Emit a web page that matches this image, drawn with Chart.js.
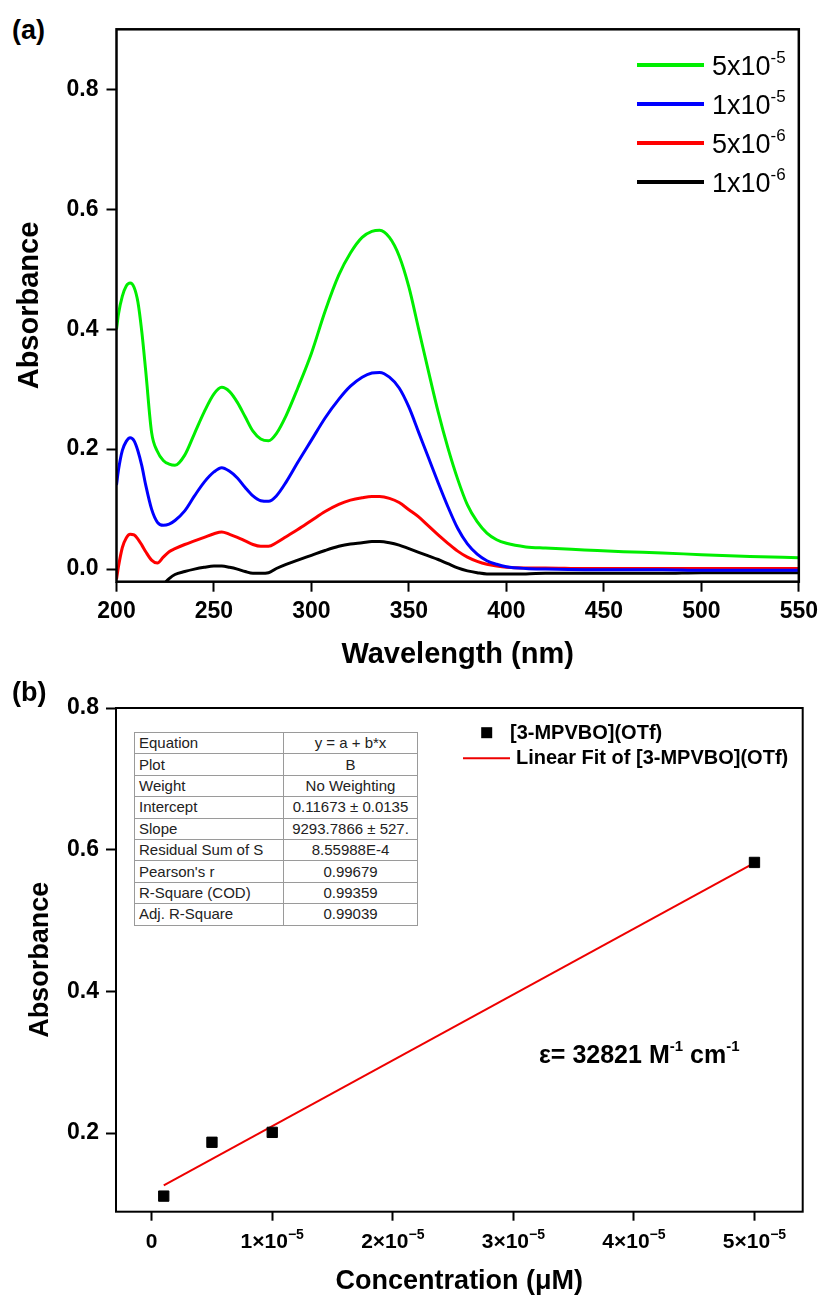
<!DOCTYPE html>
<html>
<head>
<meta charset="utf-8">
<script src="https://cdn.jsdelivr.net/npm/chart.js@4.4.1/dist/chart.umd.min.js"></script>
<style>
  body { margin: 0; background: #fff; width: 824px; height: 1296px; position: relative; overflow: hidden;
         font-family: 'Liberation Sans', Arial, sans-serif; color: #000; }
  canvas { position: absolute; left: 0; }
  #spectra { top: 0; }
  #calib { top: 680px; }
  .panel { position: absolute; left: 12px; font-weight: bold; font-size: 27px; line-height: 30px; }
  #fitTable { position: absolute; left: 134px; top: 732px; width: 284px; border-collapse: collapse;
              table-layout: fixed; font-size: 15px; color: #222; background: #fff; }
  #fitTable td { border: 1px solid #9a9a9a; padding: 0 0 0 4px; height: 20.4px; line-height: 20px; white-space: nowrap; overflow: hidden; }
  #fitTable td.v { text-align: center; padding: 0; }
  #epsilon { position: absolute; left: 539px; top: 1039px; font-weight: bold; font-size: 25px; line-height: 30px; }
  #epsilon sup { font-size: 15px; position: relative; top: -3px; vertical-align: super; line-height: 0; }
</style>
</head>
<body>
<div class="panel" style="top:15px">(a)</div>
<canvas id="spectra" width="824" height="680"></canvas>
<div class="panel" style="top:677px">(b)</div>
<canvas id="calib" width="824" height="616"></canvas>
<table id="fitTable"></table>
<div id="epsilon">ε= 32821 M<sup>-1</sup> cm<sup>-1</sup></div>

<script>
// panel (a): absorption spectra at four concentrations
const wavelengths = [200, 201, 203, 205, 207, 209, 211, 213, 215, 218, 221, 224, 227, 230, 235, 240, 245, 250, 254, 258,
  262, 266, 270, 274, 278, 282, 287, 293, 300, 307, 314, 320, 326, 331, 335, 340, 345, 350, 355, 360,
  365, 370, 375, 380, 385, 390, 395, 400, 410, 420, 440, 460, 480, 500, 525, 550];

const abs5e5 = [0.400, 0.425, 0.455, 0.472, 0.477, 0.470, 0.445, 0.395, 0.330, 0.228,
  0.196, 0.181, 0.175, 0.173, 0.190, 0.226, 0.262, 0.292, 0.303, 0.296,
  0.278, 0.254, 0.230, 0.217, 0.214, 0.226, 0.256, 0.302, 0.360, 0.430,
  0.490, 0.527, 0.553, 0.563, 0.565, 0.553, 0.522, 0.470, 0.400, 0.330,
  0.262, 0.202, 0.150, 0.107, 0.079, 0.060, 0.049, 0.043, 0.037, 0.035,
  0.032, 0.029, 0.027, 0.024, 0.021, 0.019];

const abs1e5 = [0.140, 0.165, 0.198, 0.213, 0.219, 0.214, 0.197, 0.172, 0.140, 0.100,
  0.078, 0.073, 0.075, 0.081, 0.097, 0.122, 0.145, 0.162, 0.169, 0.163,
  0.152, 0.136, 0.122, 0.114, 0.113, 0.122, 0.145, 0.178, 0.215, 0.252,
  0.283, 0.305, 0.320, 0.327, 0.328, 0.320, 0.302, 0.270, 0.228, 0.186,
  0.144, 0.104, 0.068, 0.042, 0.025, 0.014, 0.008, 0.004, 0.001, 0.000,
  -0.001, -0.001, -0.001, -0.002, -0.002, -0.002];

const abs5e6 = [-0.017, 0.004, 0.036, 0.052, 0.058, 0.057, 0.050, 0.040, 0.029, 0.015,
  0.010, 0.020, 0.029, 0.034, 0.041, 0.047, 0.053, 0.059, 0.062, 0.058,
  0.053, 0.047, 0.041, 0.038, 0.038, 0.044, 0.054, 0.066, 0.081, 0.096,
  0.108, 0.115, 0.119, 0.121, 0.121, 0.118, 0.111, 0.099, 0.087, 0.072,
  0.057, 0.043, 0.030, 0.020, 0.013, 0.008, 0.005, 0.003, 0.002, 0.002,
  0.001, 0.001, 0.001, 0.001, 0.001, 0.001];

const abs1e6 = [null, null, null, null, null, null, null, null, null, null,
  null, -0.026, -0.016, -0.009, -0.004, 0.000, 0.003, 0.005, 0.005, 0.003,
  0.000, -0.004, -0.007, -0.007, -0.006, 0.001, 0.008, 0.015, 0.023, 0.031,
  0.038, 0.042, 0.044, 0.046, 0.046, 0.044, 0.040, 0.034, 0.028, 0.022,
  0.016, 0.009, 0.002, -0.003, -0.006, -0.008, -0.008, -0.008, -0.008, -0.007,
  -0.007, -0.007, -0.007, -0.006, -0.006, -0.006];

const concLabels = ['5x10^-5', '1x10^-5', '5x10^-6', '1x10^-6'];
const spectraColors = ['#00ee00', '#0000ff', '#ff0000', '#000000'];

// panel (b): calibration points and linear fit
const concentrations = [1e-6, 5e-6, 1e-5, 5e-5];
const absorbances = [0.111, 0.187, 0.201, 0.582];
const fitIntercept = 0.11673;
const fitSlope = 9293.7866;
const concTickPower = -5;
const seriesName = '[3-MPVBO](OTf)';

const fitRowNames = ['Equation', 'Plot', 'Weight', 'Intercept', 'Slope', 'Residual Sum of S',
  "Pearson's r", 'R-Square (COD)', 'Adj. R-Square'];
const fitRowValues = ['y = a + b*x', 'B', 'No Weighting', '0.11673 \u00b1 0.0135', '9293.7866 \u00b1 527.',
  '8.55988E-4', '0.99679', '0.99359', '0.99039'];

Chart.defaults.font.family = "'Liberation Sans', Arial, sans-serif";
Chart.defaults.color = '#000';

const FONT = "'Liberation Sans', Arial, sans-serif";

// writes base text followed by a raised exponent
function drawPowerText(ctx, x, y, base, power, mainFont, supFont, rise, align) {
  ctx.font = mainFont;
  const w1 = ctx.measureText(base).width;
  ctx.font = supFont;
  const w2 = power ? ctx.measureText(power).width : 0;
  const x0 = align === 'center' ? x - (w1 + w2) / 2 : x;
  ctx.textAlign = 'left';
  ctx.textBaseline = 'alphabetic';
  ctx.font = mainFont;
  ctx.fillText(base, x0, y);
  if (power) {
    ctx.font = supFont;
    ctx.fillText(power, x0 + w1, y - rise);
  }
}

const framePlugin = {
  id: 'frame',
  afterDraw(chart, args, opts) {
    const {ctx, chartArea: a} = chart;
    ctx.save();
    ctx.strokeStyle = '#000';
    ctx.lineWidth = opts.width;
    ctx.strokeRect(a.left, a.top, a.right - a.left, a.bottom - a.top);
    ctx.restore();
  }
};

const spectraLegend = {
  id: 'spectraLegend',
  afterDraw(chart) {
    const ctx = chart.ctx;
    chart.data.datasets.forEach((ds, i) => {
      const y = 65 + i * 39;
      ctx.save();
      ctx.strokeStyle = ds.borderColor;
      ctx.lineWidth = 4;
      ctx.beginPath();
      ctx.moveTo(637, y);
      ctx.lineTo(704, y);
      ctx.stroke();
      ctx.fillStyle = '#000';
      const [base, power] = ds.label.split('^');
      drawPowerText(ctx, 712, y + 10, base, power, '27px ' + FONT, '17px ' + FONT, 12, 'left');
      ctx.restore();
    });
  }
};

const spectraSets = [abs5e5, abs1e5, abs5e6, abs1e6].map((vals, i) => ({
  label: concLabels[i],
  data: wavelengths.map((w, j) => ({x: w, y: vals[j]})),
  borderColor: spectraColors[i],
  borderWidth: 3,
  pointRadius: 0,
  cubicInterpolationMode: 'monotone',
  clip: 0
}));

new Chart(document.getElementById('spectra'), {
  type: 'line',
  data: {datasets: spectraSets},
  plugins: [framePlugin, spectraLegend],
  options: {
    responsive: false,
    animation: false,
    layout: {padding: {top: 29.3, right: 21.5, left: 0, bottom: 0}},
    plugins: {legend: {display: false}, tooltip: {enabled: false}, frame: {width: 2.5}},
    scales: {
      x: {
        type: 'linear', min: 200, max: 550,
        afterFit: s => { s.height = 98.3; },
        ticks: {stepSize: 50, includeBounds: false, padding: 6, font: {size: 23, weight: 'bold'}, maxRotation: 0},
        grid: {drawOnChartArea: false, tickLength: 10, tickColor: '#000', tickWidth: 2},
        border: {display: false},
        title: {display: true, text: 'Wavelength (nm)', font: {size: 29, weight: 'bold'}, padding: {top: 0, bottom: 8}}
      },
      y: {
        type: 'linear', min: -0.021, max: 0.9,
        afterFit: s => { s.width = 116.5; },
        ticks: {stepSize: 0.2, includeBounds: false, padding: 8, font: {size: 23, weight: 'bold'}, callback: v => v.toFixed(1)},
        grid: {drawOnChartArea: false, tickLength: 10, tickColor: '#000', tickWidth: 2},
        border: {display: false},
        title: {display: true, text: 'Absorbance', font: {size: 29, weight: 'bold'}, padding: {top: 13, bottom: 0}}
      }
    }
  }
});

// panel (b)
const fitEnds = [concentrations[0], concentrations[concentrations.length - 1]];

const calibLegend = {
  id: 'calibLegend',
  afterDraw(chart) {
    const ctx = chart.ctx;
    const [pts, fit] = chart.data.datasets;
    ctx.save();
    ctx.fillStyle = pts.backgroundColor;
    ctx.fillRect(481.2, 47.2, 11, 11);
    ctx.strokeStyle = fit.borderColor;
    ctx.lineWidth = 2;
    ctx.beginPath();
    ctx.moveTo(463, 78.3);
    ctx.lineTo(510, 78.3);
    ctx.stroke();
    ctx.fillStyle = '#000';
    ctx.font = 'bold 20px ' + FONT;
    ctx.textBaseline = 'middle';
    ctx.fillText(pts.label, 510, 53);
    ctx.fillText(fit.label, 516, 78.5);
    ctx.restore();
  }
};

// x tick labels written as powers of ten
const concTickLabels = {
  id: 'concTickLabels',
  afterDraw(chart) {
    const ctx = chart.ctx;
    const xs = chart.scales.x;
    ctx.save();
    ctx.fillStyle = '#000';
    xs.ticks.forEach(t => {
      const px = xs.getPixelForValue(t.value);
      const m = Math.round(t.value / Math.pow(10, concTickPower));
      if (m === 0) {
        drawPowerText(ctx, px, 567.5, '0', '', 'bold 21px ' + FONT, 'bold 14px ' + FONT, 9, 'center');
      } else {
        drawPowerText(ctx, px, 567.5, m + '\u00d710', '\u2212' + Math.abs(concTickPower),
          'bold 21px ' + FONT, 'bold 14px ' + FONT, 9, 'center');
      }
    });
    ctx.restore();
  }
};

new Chart(document.getElementById('calib'), {
  type: 'scatter',
  data: {
    datasets: [
      {
        label: seriesName,
        data: concentrations.map((c, i) => ({x: c, y: absorbances[i]})),
        pointStyle: 'rect',
        pointRadius: 7.3,
        backgroundColor: '#000',
        borderColor: '#000',
        borderWidth: 1
      },
      {
        label: 'Linear Fit of ' + seriesName,
        data: fitEnds.map(c => ({x: c, y: fitIntercept + fitSlope * c})),
        showLine: true,
        pointRadius: 0,
        borderColor: '#ee0000',
        borderWidth: 2
      }
    ]
  },
  plugins: [framePlugin, calibLegend, concTickLabels],
  options: {
    responsive: false,
    animation: false,
    layout: {padding: {top: 28, right: 21.3, left: 0, bottom: 0}},
    plugins: {legend: {display: false}, tooltip: {enabled: false}, frame: {width: 2}},
    scales: {
      x: {
        type: 'linear', min: -2.96e-6, max: 5.4e-5,
        afterFit: s => { s.height = 84.3; },
        ticks: {stepSize: 1e-5, includeBounds: false, display: false},
        grid: {drawOnChartArea: false, tickLength: 9, tickColor: '#000', tickWidth: 2},
        border: {display: false},
        title: {display: true, text: 'Concentration (\u03bcM)', font: {size: 27, weight: 'bold', lineHeight: 1}, padding: {top: 0, bottom: 1}}
      },
      y: {
        type: 'linear', min: 0.089, max: 0.8,
        afterFit: s => { s.width = 116; },
        ticks: {stepSize: 0.2, includeBounds: false, padding: 7, font: {size: 23, weight: 'bold'}, callback: v => v.toFixed(1)},
        grid: {drawOnChartArea: false, tickLength: 10, tickColor: '#000', tickWidth: 2},
        border: {display: false},
        title: {display: true, text: 'Absorbance', font: {size: 27, weight: 'bold'}, padding: {top: 24, bottom: 0}}
      }
    }
  }
});

// fit statistics table
const table = document.getElementById('fitTable');
fitRowNames.forEach((name, i) => {
  const tr = document.createElement('tr');
  const a = document.createElement('td');
  a.textContent = name;
  a.style.width = '144px';
  const b = document.createElement('td');
  b.className = 'v';
  b.textContent = fitRowValues[i];
  tr.appendChild(a);
  tr.appendChild(b);
  table.appendChild(tr);
});
</script>
</body>
</html>
